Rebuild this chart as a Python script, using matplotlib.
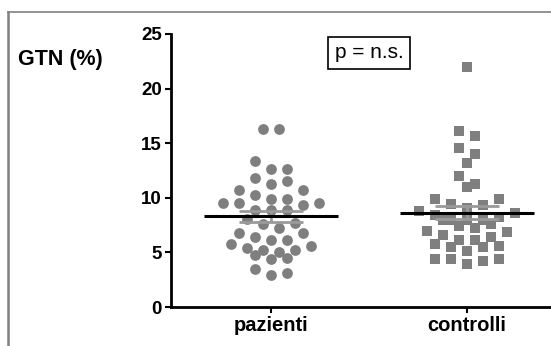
import matplotlib.pyplot as plt
import numpy as np
from matplotlib.lines import Line2D

plt.rcParams['font.family'] = ['Liberation Sans', 'DejaVu Sans']

groups = ['pazienti', 'controlli']
pazienti = [16.3, 16.3, 13.4, 12.6, 12.6, 11.8, 11.5, 11.3, 10.7, 10.7,
            10.3, 9.9, 9.5, 9.3, 9.5, 9.5, 9.9, 8.9, 8.9, 8.9,
            8.1, 7.7, 7.6, 7.2, 6.8, 6.8, 6.4, 6.1, 6.1, 5.6,
            5.8, 5.2, 5.0, 5.2, 5.4, 4.8, 4.4, 4.5, 3.5, 2.9, 3.1]
controlli = [22.0, 16.1, 15.7, 14.6, 14.0, 13.2, 12.0, 11.0, 11.3, 9.9,
             9.9, 9.3, 9.1, 9.4, 8.8, 8.6, 8.4, 8.2, 8.0, 8.0,
             8.0, 8.0, 7.6, 7.4, 7.2, 7.0, 6.9, 6.6, 6.4, 6.1,
             6.1, 5.8, 5.5, 5.5, 5.6, 5.1, 4.4, 4.4, 3.9, 4.2, 4.4]
y_ticks = [0, 5, 10, 15, 20, 25]
y_label = 'GTN (%)'
p_text = 'p = n.s.'

W, H = 551, 346
fig = plt.figure(figsize=(W / 100, H / 100), dpi=100)
ax = fig.add_axes([171 / W, 39 / H, 380 / W, 273 / H])
ax.set_xlim(-0.51, 1.429)
ax.set_ylim(0, 25)

px_x = 196.0   # pixels per category unit


def spread(vals, bw=0.95, step=16.0, maxn=7):
    # column scatter: values close in y are put side by side in one row
    vals = np.asarray(vals, float)
    xs = np.zeros(len(vals))
    order = np.argsort(-vals, kind='stable')
    rows, cur = [], [order[0]]
    for k in order[1:]:
        if vals[cur[0]] - vals[k] < bw and len(cur) < maxn:
            cur.append(k)
        else:
            rows.append(cur)
            cur = [k]
    rows.append(cur)
    for row in rows:
        n = len(row)
        row = row[0::2] + row[1::2][::-1]
        for j, k in enumerate(row):
            xs[k] = (j - (n - 1) / 2) * step
    return xs / px_x


gray = '#7f7f7f'
for i, (vals, mk) in enumerate([(pazienti, 'o'), (controlli, 's')]):
    vals = np.asarray(vals)
    ax.scatter(i + spread(vals), vals, s=60, marker=mk, color=gray,
               linewidths=0, zorder=2)
    m = vals.mean()
    sem = vals.std(ddof=1) / np.sqrt(len(vals))
    ax.errorbar(i, m, yerr=sem, color='#9a9a9a', capsize=23, capthick=2,
                elinewidth=2, zorder=3)
    ax.plot([i - 0.34, i + 0.34], [m, m], color='black', lw=2.2, zorder=4,
            solid_capstyle='butt')

for s in ['top', 'right']:
    ax.spines[s].set_visible(False)
for s in ['left', 'bottom']:
    ax.spines[s].set_linewidth(2)
ax.set_xticks([0, 1])
ax.set_xticklabels(groups, fontsize=14.5, fontweight='bold')
ax.set_yticks(y_ticks)
ax.set_yticklabels([str(t) for t in y_ticks], fontsize=13.5, fontweight='bold')
ax.tick_params(length=4.5, width=1.5, pad=2)

fig.text(18 / W, 1 - 59 / H, y_label, fontsize=15.5, fontweight='bold',
         va='center', ha='left')
fig.text(369 / W, 1 - 53 / H, p_text, fontsize=15, va='center', ha='center',
         bbox=dict(boxstyle='square,pad=0.3', fc='white', ec='black', lw=1.2))

fig.add_artist(Line2D([8 / W, 1], [1 - 12 / H, 1 - 12 / H], color='#808080', lw=1.2))
fig.add_artist(Line2D([8 / W, 8 / W], [0, 1 - 12 / H], color='#808080', lw=1.8))

fig.savefig('out.png', dpi=100)
